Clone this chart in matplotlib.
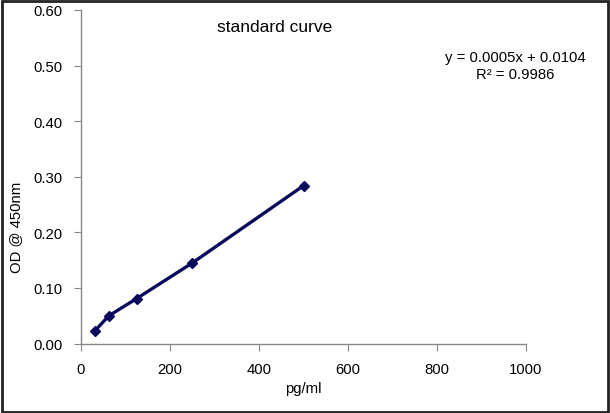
import matplotlib.pyplot as plt
from matplotlib.patches import Rectangle

# standard curve data
conc = [31.25, 62.5, 125, 250, 500]
od = [0.023, 0.050, 0.081, 0.145, 0.284]

xticks = [0, 200, 400, 600, 800, 1000]
yticks = [0.0, 0.1, 0.2, 0.3, 0.4, 0.5, 0.6]

plt.rcParams['font.family'] = ['Liberation Sans', 'DejaVu Sans']

fig = plt.figure(figsize=(6.10, 4.14), dpi=100)
W, H = 610, 414
ax = fig.add_axes([81 / W, (H - 344.6) / H, (526 - 81) / W, (344.6 - 11) / H])

ax.plot(conc, od, color="#0a0a5c", linewidth=2.4, marker="D", markersize=5)

ax.set_xlim(0, 1000)
ax.set_ylim(0, 0.6)
ax.set_xticks(xticks)
ax.set_yticks(yticks)
ax.set_yticklabels(["{:.2f}".format(v) for v in yticks])

for s in ["top", "right"]:
    ax.spines[s].set_visible(False)
for s in ["left", "bottom"]:
    ax.spines[s].set_color("#888888")
    ax.spines[s].set_linewidth(1)
ax.tick_params(direction="out", length=5, color="#888888", labelsize=10.7, pad=8)

ax.set_xlabel("pg/ml", fontsize=10.7, labelpad=4)
ax.set_ylabel("OD @ 450nm", fontsize=10.7)
ax.yaxis.set_label_coords((23 - 81) / 445, (344.6 - 227) / 333.6)

fig.text(275 / W, 1 - 28 / H, "standard curve", fontsize=12.5, ha="center", va="center")
fig.text(515 / W, 1 - 58 / H, "y = 0.0005x + 0.0104", fontsize=10.7, ha="center", va="center")
fig.text(515 / W, 1 - 75 / H, "R² = 0.9986", fontsize=10.7, ha="center", va="center")

# outer border like the excel chart area
fig.patches.append(Rectangle((1.5 / W, 1.5 / H), 1 - 3.5 / W, 1 - 3.5 / H, transform=fig.transFigure,
                             fill=False, edgecolor="#222222", linewidth=2))

fig.savefig("out.png", dpi=100)
